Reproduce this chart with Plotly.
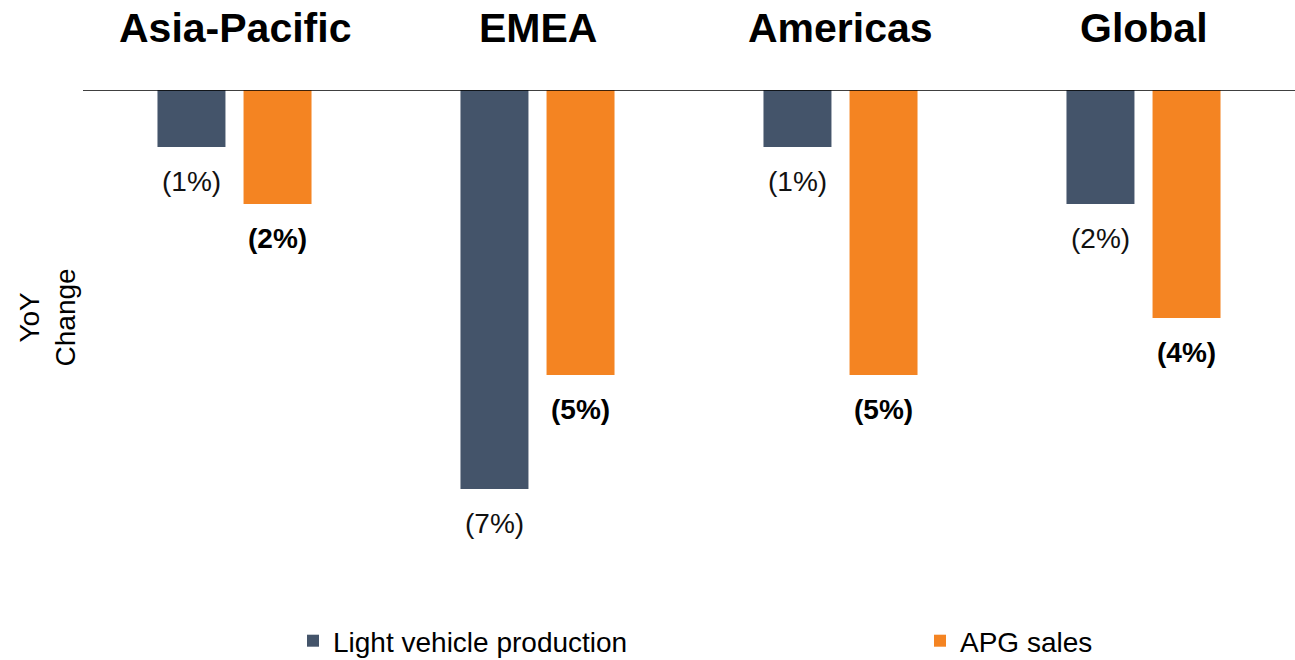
import plotly.graph_objects as go

regions = ["Asia-Pacific", "EMEA", "Americas", "Global"]
light_vehicle = [-1, -7, -1, -2]
apg_sales = [-2, -5, -5, -4]

SLATE = "#44546A"
ORANGE = "#F48422"
FONT = "Liberation Sans, Arial, Helvetica, sans-serif"


def fmt(v):
    return f"({abs(v)}%)" if v < 0 else f"{v}%"


fig = go.Figure()
fig.add_trace(go.Bar(name="Light vehicle production", x=regions, y=light_vehicle,
                     marker=dict(color=SLATE, line=dict(width=0)), legend="legend"))
fig.add_trace(go.Bar(name="APG sales", x=regions, y=apg_sales,
                     marker=dict(color=ORANGE, line=dict(width=0)), legend="legend2"))

annotations = []
# value labels below each bar
for r, v in zip(regions, light_vehicle):
    annotations.append(dict(x=r, y=v, xref="x", yref="y", text=fmt(v), showarrow=False,
                            xshift=-43, yshift=-17, yanchor="top",
                            font=dict(family=FONT, size=28, color="#111")))
for r, v in zip(regions, apg_sales):
    annotations.append(dict(x=r, y=v, xref="x", yref="y", text=f"<b>{fmt(v)}</b>", showarrow=False,
                            xshift=43, yshift=-17, yanchor="top",
                            font=dict(family=FONT, size=28, color="#000")))
# region headings above the plot
for r in regions:
    annotations.append(dict(x=r, y=1, xref="x", yref="paper", text=f"<b>{r}</b>", showarrow=False,
                            yanchor="middle", yshift=62,
                            font=dict(family=FONT, size=41, color="#000")))
# y axis title
annotations.append(dict(x=-0.0586, y=0.555, xref="paper", yref="paper", text="YoY<br>Change",
                        textangle=-90, showarrow=False,
                        font=dict(family=FONT, size=28, color="#000")))

legend_font = dict(family=FONT, size=28, color="#000")
fig.update_layout(
    width=1295, height=660,
    margin=dict(l=83, r=0, t=90, b=60),
    paper_bgcolor="white", plot_bgcolor="white",
    barmode="group", bargap=0.432, bargroupgap=0.21,
    showlegend=True,
    legend=dict(orientation="h", xref="container", yref="container",
                x=293 / 1295, xanchor="left", y=19 / 660, yanchor="middle",
                font=legend_font, bgcolor="rgba(0,0,0,0)"),
    legend2=dict(orientation="h", xref="container", yref="container",
                 x=920 / 1295, xanchor="left", y=19 / 660, yanchor="middle",
                 font=legend_font, bgcolor="rgba(0,0,0,0)"),
    xaxis=dict(showticklabels=False, showgrid=False, zeroline=False, showline=False, ticks=""),
    yaxis=dict(range=[-8.947, 0], showticklabels=False, showgrid=False, zeroline=False,
               showline=False, ticks=""),
    annotations=annotations,
    shapes=[dict(type="line", xref="paper", yref="y", x0=0, x1=1, y0=0, y1=0,
                 line=dict(color="#000", width=1.5))],
)

fig.write_html("out.html")
